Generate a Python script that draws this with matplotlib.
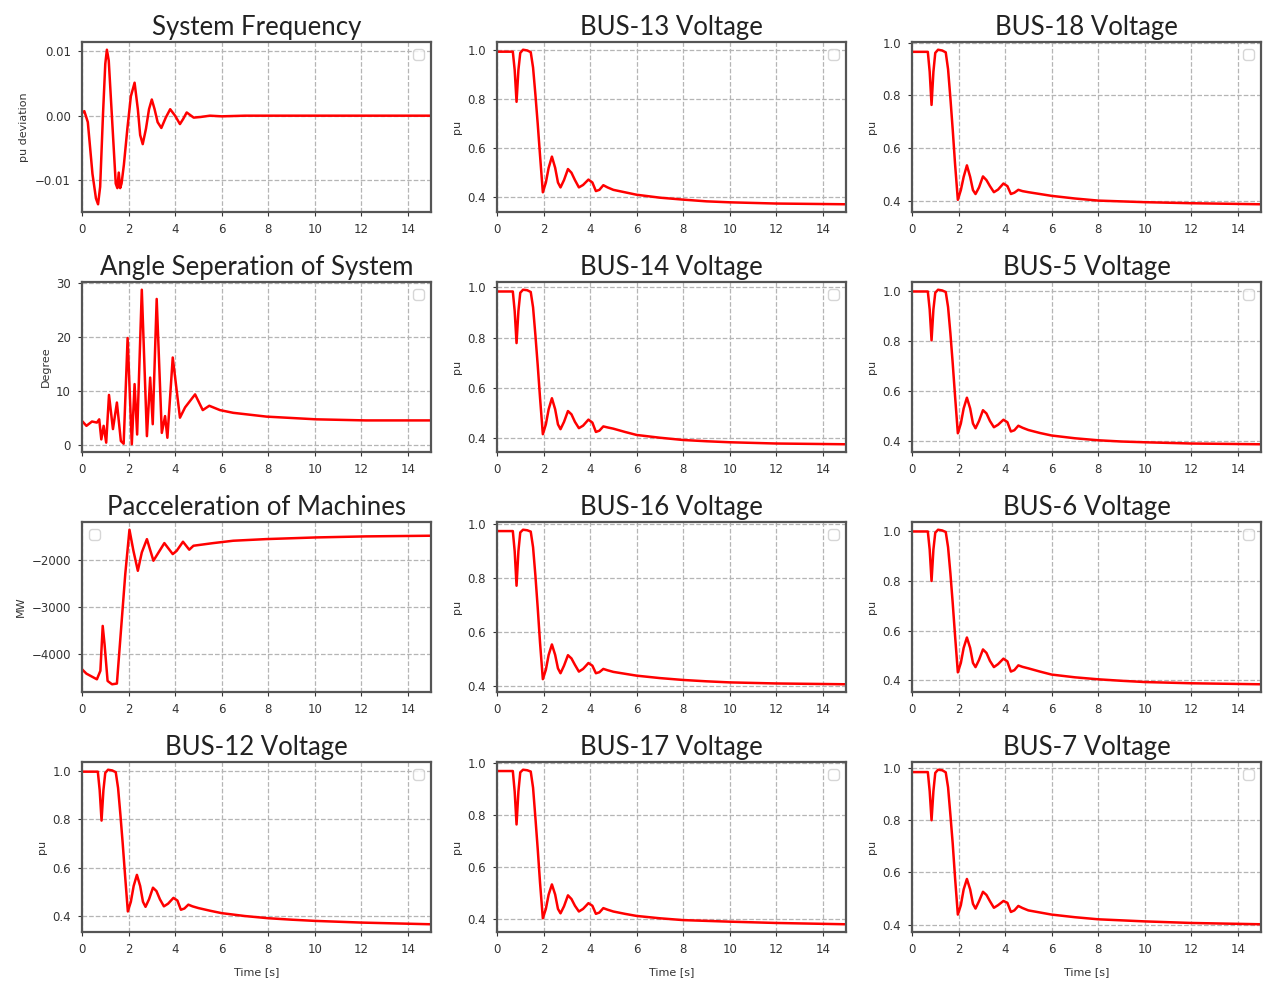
import numpy as np
import matplotlib.pyplot as plt
from matplotlib.ticker import MultipleLocator

# 시간축 (s)
t_freq = [0, 0.1, 0.25, 0.45, 0.6, 0.69, 0.78, 0.9, 1.0, 1.07, 1.15, 1.3, 1.45, 1.52, 1.58, 1.64,
          1.7, 1.8, 1.95, 2.1, 2.26, 2.4, 2.5, 2.61, 2.75, 2.88, 3.0, 3.12, 3.25, 3.41, 3.6, 3.79,
          4.0, 4.21, 4.35, 4.5, 4.65, 4.8, 5.1, 5.5, 6.0, 7.0, 10.0, 15.0]
freq_dev = [0.0004, 0.0007, -0.001, -0.009, -0.0128, -0.0137, -0.011, 0.0, 0.008, 0.0102, 0.0085,
            -0.001, -0.0105, -0.0112, -0.0088, -0.0112, -0.0105, -0.0076, -0.002, 0.003, 0.0051,
            0.001, -0.003, -0.0044, -0.002, 0.001, 0.0025, 0.001, -0.001, -0.0019, -0.0003, 0.001,
            0.0, -0.0013, -0.0005, 0.0005, 0.0001, -0.0003, -0.0002, 0.0, -0.0001, 0.0, 0.0, 0.0]

t_angle = [0, 0.19, 0.43, 0.64, 0.74, 0.83, 0.93, 1.04, 1.16, 1.33, 1.5, 1.67, 1.79, 1.96, 2.14,
           2.26, 2.37, 2.57, 2.79, 2.93, 3.04, 3.21, 3.43, 3.57, 3.67, 3.9, 4.21, 4.43, 4.86, 5.19,
           5.47, 5.93, 6.5, 7.93, 10.07, 12.2, 15.0]
angle = [4.5, 3.6, 4.4, 4.2, 4.8, 1.1, 3.6, 0.5, 9.3, 3.0, 7.9, 0.8, 0.3, 19.8, 0.2, 11.3, 2.0,
         28.7, 1.7, 12.5, 3.9, 27.0, 2.3, 5.4, 1.4, 16.2, 5.1, 7.0, 9.4, 6.5, 7.3, 6.5, 6.0, 5.3,
         4.8, 4.6, 4.6]

t_pacc = [0, 0.19, 0.64, 0.79, 0.89, 0.97, 1.1, 1.29, 1.5, 1.64, 1.86, 2.04, 2.21, 2.4, 2.57,
          2.79, 3.07, 3.29, 3.54, 3.9, 4.07, 4.34, 4.61, 4.79, 5.64, 6.5, 7.93, 10.07, 12.2, 15.0]
pacc = [-4318, -4410, -4530, -4350, -3400, -3790, -4565, -4635, -4620, -3720, -2300, -1364,
        -1810, -2233, -1845, -1563, -2020, -1845, -1647, -1880, -1810, -1618, -1787, -1703,
        -1647, -1597, -1562, -1527, -1505, -1491]

# 모선 전압 (pu)
t_v = [0, 0.68, 0.76, 0.84, 0.92, 1.0, 1.12, 1.3, 1.45, 1.55, 1.65, 1.75, 1.85, 1.97, 2.1, 2.22,
       2.36, 2.5, 2.62, 2.73, 2.88, 3.05, 3.2, 3.35, 3.52, 3.7, 3.93, 4.1, 4.25, 4.4, 4.57, 4.75,
       5.0, 5.5, 6.0, 7.0, 8.0, 9.0, 10.0, 12.0, 15.0]
bus13 = [0.995, 0.995, 0.92, 0.79, 0.92, 0.99, 1.003, 1.0, 0.993, 0.93, 0.82, 0.70, 0.57, 0.42,
         0.46, 0.52, 0.566, 0.52, 0.46, 0.44, 0.47, 0.515, 0.50, 0.47, 0.44, 0.45, 0.472, 0.46,
         0.425, 0.43, 0.449, 0.44, 0.43, 0.42, 0.41, 0.398, 0.39, 0.383, 0.379, 0.374, 0.371]
bus18 = [0.966, 0.966, 0.89, 0.764, 0.89, 0.962, 0.974, 0.971, 0.964, 0.90, 0.79, 0.67, 0.54,
         0.403, 0.44, 0.49, 0.534, 0.49, 0.44, 0.425, 0.45, 0.492, 0.478, 0.455, 0.432, 0.442,
         0.465, 0.455, 0.425, 0.43, 0.441, 0.436, 0.432, 0.425, 0.418, 0.408, 0.40, 0.397, 0.394,
         0.39, 0.386]
bus14 = [0.983, 0.983, 0.905, 0.778, 0.905, 0.978, 0.99, 0.988, 0.981, 0.92, 0.81, 0.69, 0.56,
         0.416, 0.455, 0.515, 0.559, 0.515, 0.455, 0.436, 0.465, 0.508, 0.495, 0.465, 0.44, 0.45,
         0.474, 0.462, 0.425, 0.43, 0.447, 0.443, 0.438, 0.425, 0.413, 0.402, 0.393, 0.388, 0.384,
         0.379, 0.376]
bus5 = [0.997, 0.997, 0.925, 0.802, 0.925, 0.992, 1.004, 1.001, 0.995, 0.935, 0.83, 0.71, 0.58,
        0.431, 0.47, 0.53, 0.573, 0.53, 0.47, 0.451, 0.48, 0.523, 0.51, 0.48, 0.455, 0.465, 0.485,
        0.475, 0.438, 0.443, 0.461, 0.453, 0.444, 0.432, 0.422, 0.411, 0.403, 0.398, 0.395, 0.39,
        0.387]
bus16 = [0.975, 0.975, 0.9, 0.772, 0.9, 0.97, 0.98, 0.978, 0.973, 0.915, 0.81, 0.69, 0.56, 0.425,
         0.46, 0.515, 0.554, 0.515, 0.465, 0.447, 0.475, 0.514, 0.502, 0.478, 0.453, 0.463, 0.485,
         0.475, 0.447, 0.451, 0.463, 0.458, 0.452, 0.445, 0.438, 0.429, 0.422, 0.417, 0.413,
         0.409, 0.406]
bus6 = [0.998, 0.998, 0.925, 0.799, 0.925, 0.993, 1.005, 1.002, 0.996, 0.935, 0.83, 0.71, 0.58,
        0.432, 0.47, 0.53, 0.572, 0.53, 0.47, 0.453, 0.482, 0.524, 0.51, 0.478, 0.453, 0.465,
        0.487, 0.476, 0.435, 0.441, 0.46, 0.454, 0.448, 0.435, 0.423, 0.412, 0.404, 0.398, 0.393,
        0.388, 0.384]
bus12 = [0.997, 0.997, 0.92, 0.795, 0.92, 0.992, 1.005, 1.002, 0.995, 0.93, 0.82, 0.70, 0.57,
         0.42, 0.46, 0.525, 0.571, 0.525, 0.46, 0.439, 0.47, 0.518, 0.504, 0.47, 0.441, 0.452,
         0.476, 0.465, 0.427, 0.432, 0.448, 0.441, 0.434, 0.423, 0.413, 0.401, 0.392, 0.386, 0.381,
         0.374, 0.367]
bus17 = [0.969, 0.969, 0.89, 0.764, 0.89, 0.964, 0.974, 0.972, 0.967, 0.905, 0.79, 0.67, 0.54,
         0.404, 0.44, 0.495, 0.534, 0.495, 0.44, 0.423, 0.45, 0.492, 0.478, 0.452, 0.43, 0.44,
         0.462, 0.452, 0.421, 0.426, 0.443, 0.437, 0.43, 0.421, 0.413, 0.404, 0.397, 0.394, 0.391,
         0.386, 0.381]
bus7 = [0.983, 0.983, 0.91, 0.799, 0.91, 0.98, 0.992, 0.99, 0.982, 0.925, 0.82, 0.71, 0.58,
        0.439, 0.475, 0.535, 0.575, 0.535, 0.48, 0.462, 0.49, 0.526, 0.514, 0.49, 0.465, 0.475,
        0.491, 0.484, 0.449, 0.455, 0.472, 0.464, 0.455, 0.447, 0.439, 0.429, 0.421, 0.417, 0.413,
        0.407, 0.402]

# (제목, x, y, y축 이름, y눈금 간격, 범례 위치) - 행 순서대로
panels = [
    ('System Frequency', t_freq, freq_dev, 'pu deviation', 0.01, 'upper right'),
    ('BUS-13 Voltage', t_v, bus13, 'pu', 0.2, 'upper right'),
    ('BUS-18 Voltage', t_v, bus18, 'pu', 0.2, 'upper right'),
    ('Angle Seperation of System', t_angle, angle, 'Degree', 10, 'upper right'),
    ('BUS-14 Voltage', t_v, bus14, 'pu', 0.2, 'upper right'),
    ('BUS-5 Voltage', t_v, bus5, 'pu', 0.2, 'upper right'),
    ('Pacceleration of Machines', t_pacc, pacc, 'MW', 1000, 'upper left'),
    ('BUS-16 Voltage', t_v, bus16, 'pu', 0.2, 'upper right'),
    ('BUS-6 Voltage', t_v, bus6, 'pu', 0.2, 'upper right'),
    ('BUS-12 Voltage', t_v, bus12, 'pu', 0.2, 'upper right'),
    ('BUS-17 Voltage', t_v, bus17, 'pu', 0.2, 'upper right'),
    ('BUS-7 Voltage', t_v, bus7, 'pu', 0.2, 'upper right'),
]

W, H = 1266, 985
fig = plt.figure(figsize=(W / 100, H / 100), dpi=100)

lefts = [82, 497, 912]
tops = [42, 282, 522, 762]
aw, ah = 349, 170

for i, (title, x, y, ylab, step, loc) in enumerate(panels):
    r, c = divmod(i, 3)
    ax = fig.add_axes([lefts[c] / W, 1 - (tops[r] + ah) / H, aw / W, ah / H])
    ax.plot(x, y, color='red', lw=1.8)
    ax.set_xlim(0, 15)
    ax.set_xticks(np.arange(0, 15, 2))
    ax.yaxis.set_major_locator(MultipleLocator(step))
    ax.grid(True, linestyle='--', color='#b5b5b5', lw=0.9)
    for s in ax.spines.values():
        s.set_color('#555555')
        s.set_linewidth(1.6)
    ax.tick_params(labelsize=8.5, colors='#333333', length=3, pad=5)
    ax.set_ylabel(ylab, fontsize=8, color='#333333')
    ax.set_title(title, fontsize=18.5, family='Lato', color='#222222', pad=5)
    ax.legend(handles=[], loc=loc)
    if r == 3:
        ax.set_xlabel('Time [s]', fontsize=8, color='#333333', labelpad=8)

fig.savefig('out.png', dpi=100)
